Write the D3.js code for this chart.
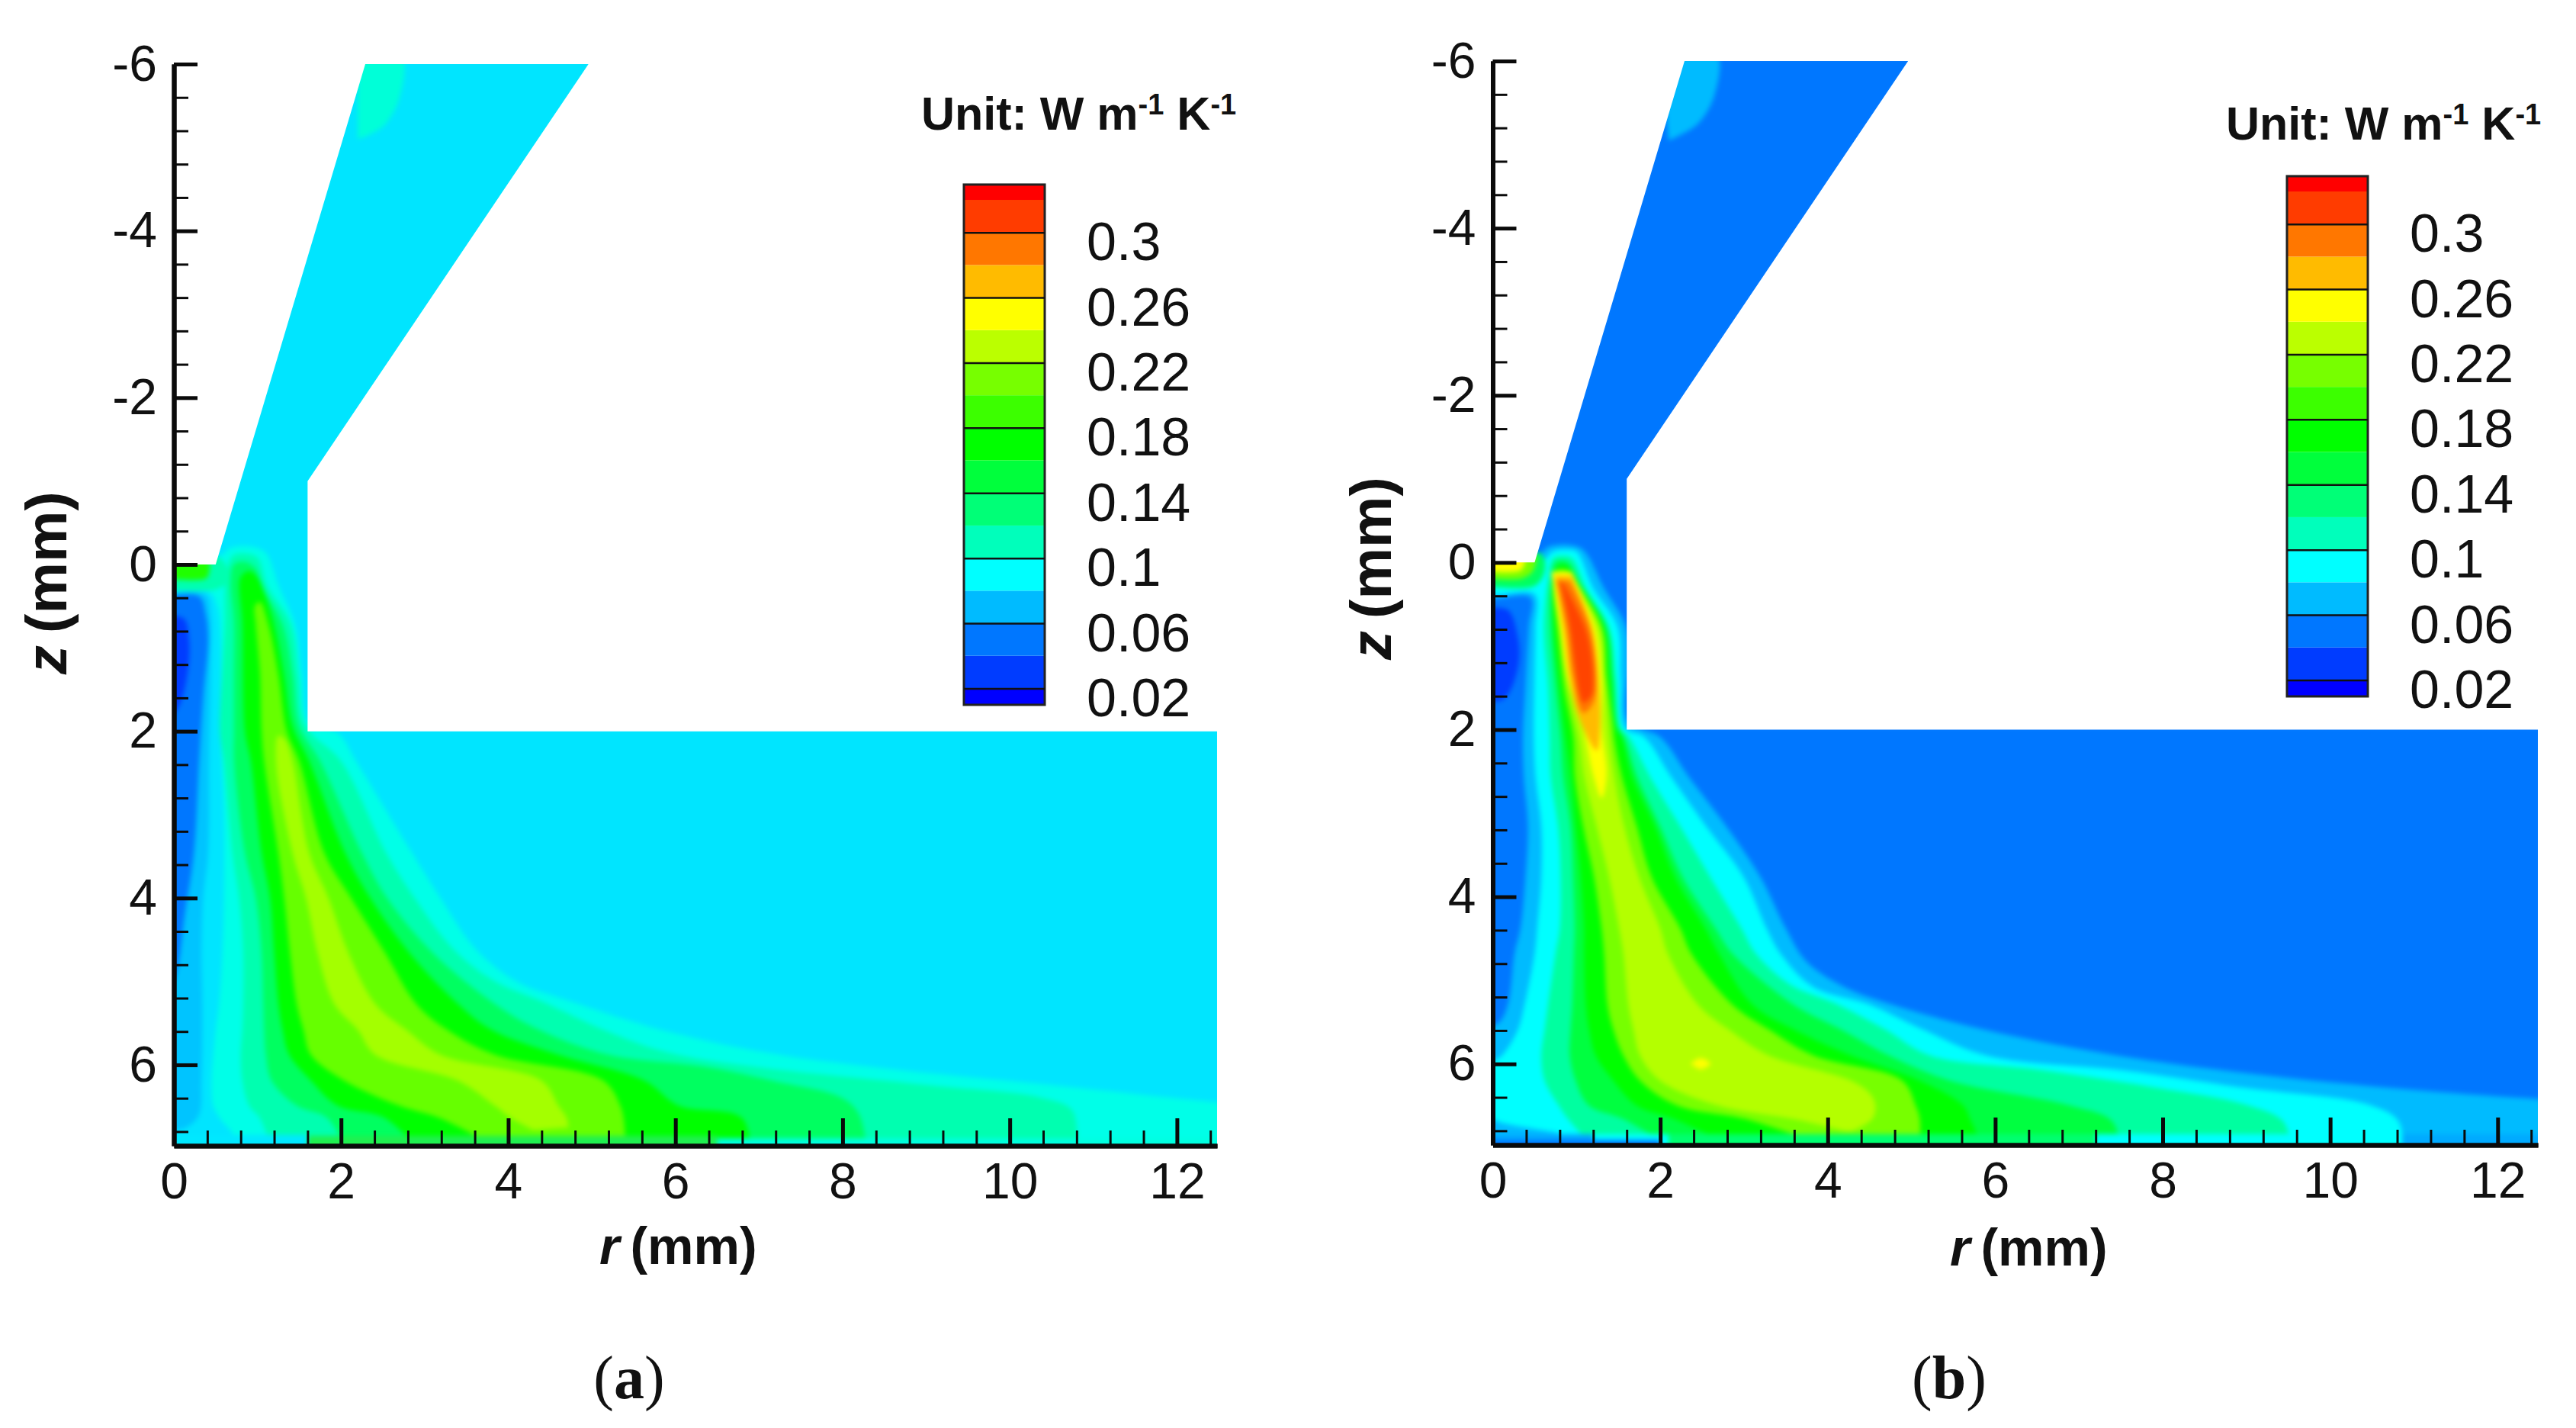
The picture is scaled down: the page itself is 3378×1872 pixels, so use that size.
<!DOCTYPE html>
<html lang="en">
<head>
<meta charset="utf-8">
<script src="https://d3js.org/d3.v7.min.js"></script>
<style>
    body { margin: 0; background: #fff; }
    text { font-family: "Liberation Sans", Arial, sans-serif; fill: #111; }
</style>
</head>
<body>
<script>
// legend
var legendLabels = [0.3, 0.26, 0.22, 0.18, 0.14, 0.1, 0.06, 0.02];
var legendEdges = [0.0099, 0.02, 0.04, 0.06, 0.08, 0.1, 0.12, 0.14, 0.16, 0.18, 0.2, 0.22, 0.24, 0.26, 0.28, 0.3, 0.32, 0.3294];
var legendColors = ["#0000ff", "#003cff", "#0077ff", "#00bbff", "#00ffff", "#00ffbb", "#00ff77", "#00ff3c", "#00ff00",
    "#3cff00", "#77ff00", "#bbff00", "#ffff00", "#ffbb00", "#ff7700", "#ff3c00", "#ff0000"];

// axis ticks (mm)
var rMajor = [0, 2, 4, 6, 8, 10, 12];
var rMinor = [0.4, 0.8, 1.2, 1.6, 2.4, 2.8, 3.2, 3.6, 4.4, 4.8, 5.2, 5.6, 6.4, 6.8, 7.2, 7.6, 8.4, 8.8, 9.2, 9.6, 10.4, 10.8, 11.2, 11.6, 12.4];
var zMajor = [-6, -4, -2, 0, 2, 4, 6];
var zMinor = [-5.6, -5.2, -4.8, -4.4, -3.6, -3.2, -2.8, -2.4, -1.6, -1.2, -0.8, -0.4, 0.4, 0.8, 1.2, 1.6, 2.4, 2.8, 3.2, 3.6, 4.4, 4.8, 5.2, 5.6, 6.4, 6.8];

// flow domain outline, [r, z] in mm
var domainOutline = [[0, 0], [0.5, 0], [2.29, -6], [4.96, -6], [1.6, -1], [1.6, 2], [12.48, 2], [12.48, 6.97], [0, 6.97]];

// panel a contour regions, [r, z] in mm
var aOuter = [[-0.1, -0.1], [0.55, -0.1], [0.68, -0.2], [0.9, -0.22], [1.1, -0.14], [1.25, 0.25], [1.45, 0.72], [1.53, 1.3], [1.62, 1.9], [1.97, 2.03], [2.18, 2.36], [2.85, 3.46], [3.19, 4], [3.6, 4.6], [4.1, 5], [4.75, 5.24], [5.83, 5.58], [7.07, 5.85], [8.4, 6.03], [10.48, 6.24], [12.5, 6.45], [13.5, 6.53], [13.5, 7.1], [-0.1, 7.1]];
var aLow1 = [[-0.1, 0.33], [0.42, 0.33], [0.52, 0.5], [0.56, 0.9], [0.56, 2], [0.6, 3], [0.6, 4], [0.58, 4.66], [0.54, 5.27], [0.5, 5.58], [0.47, 5.88], [0.45, 6.19], [0.47, 6.49], [0.55, 6.64], [0.7, 6.85], [-0.1, 6.9]];
var aLow2 = [[-0.1, 0.36], [0.38, 0.36], [0.44, 0.6], [0.44, 1.2], [0.42, 2.3], [0.41, 3.46], [0.35, 4], [0.33, 4.66], [0.34, 5.27], [0.33, 6.19], [0.3, 6.6], [0.15, 6.75], [-0.1, 6.8]];
var aLow3 = [[-0.1, 0.38], [0.3, 0.38], [0.38, 0.6], [0.41, 0.9], [0.35, 1.6], [0.3, 2.4], [0.24, 3.46], [0.13, 4.2], [0.03, 4.9], [-0.1, 5.2]];
var aLow4 = [[-0.1, 0.62], [0.12, 0.65], [0.18, 0.9], [0.17, 1.25], [0.06, 1.7], [-0.1, 1.9]];
var aBand2 = [[1.2, 7.1], [1.03, 6.64], [0.9, 6.49], [0.82, 6.19], [0.8, 5.88], [0.82, 5.58], [0.83, 5.27], [0.83, 4.66], [0.78, 4], [0.7, 3.46], [0.6, 2.36], [0.55, 2], [0.58, 1.3], [0.61, 0.72], [0.62, 0.2], [0.7, -0.1], [0.85, -0.13], [1, -0.08], [1.12, 0.26], [1.4, 0.72], [1.49, 1.33], [1.58, 1.94], [2, 2.36], [2.54, 3.46], [2.88, 4], [3.35, 4.62], [3.84, 5], [4.4, 5.24], [5.14, 5.58], [5.9, 5.85], [7, 6.03], [9, 6.24], [10.4, 6.4], [10.75, 6.55], [10.8, 7.1]];
var aBand3 = [[2.1, 7.1], [1.84, 6.64], [1.47, 6.49], [1.17, 6.19], [1.1, 5.88], [1.08, 5.58], [1.07, 5.27], [1.05, 4.66], [0.98, 4], [0.85, 3.46], [0.72, 2.36], [0.72, 2], [0.72, 1.3], [0.72, 0.7], [0.68, 0.2], [0.72, 0], [0.85, -0.03], [0.98, 0.05], [1.05, 0.26], [1.3, 0.72], [1.42, 1.33], [1.5, 1.94], [1.75, 2.36], [2.25, 3.46], [2.55, 4], [3.1, 4.66], [3.84, 5.27], [4.37, 5.58], [5.2, 5.88], [6.4, 6.03], [7.2, 6.2], [8, 6.4], [8.2, 6.6], [8.3, 7.1]];
var aBand4 = [[3, 7.1], [2.53, 6.64], [1.96, 6.49], [1.64, 6.19], [1.38, 5.88], [1.3, 5.58], [1.25, 5.27], [1.2, 4.66], [1.15, 4], [1.05, 3.46], [0.92, 2.36], [0.85, 2], [0.82, 0.72], [0.8, 0.15], [0.9, 0.08], [1, 0.15], [1.07, 0.3], [1.2, 0.72], [1.32, 1.33], [1.42, 1.94], [1.62, 2.36], [2.05, 3.46], [2.35, 4], [2.82, 4.66], [3.4, 5.27], [3.8, 5.58], [4.6, 5.88], [5.63, 6.19], [6.04, 6.49], [6.8, 6.64], [6.9, 7.1]];
var aBand5 = [[3.7, 6.9], [3.19, 6.64], [2.7, 6.49], [2.04, 6.19], [1.64, 5.88], [1.55, 5.58], [1.47, 5.27], [1.39, 4.66], [1.32, 4], [1.25, 3.46], [1.08, 2.36], [1.05, 2], [1.03, 1.3], [0.98, 0.72], [0.97, 0.5], [1.03, 0.45], [1.13, 0.72], [1.25, 1.33], [1.35, 2], [1.5, 2.36], [1.8, 3.46], [2.12, 4], [2.53, 4.66], [2.9, 5.27], [3.27, 5.58], [3.84, 5.88], [5.14, 6.19], [5.34, 6.49], [5.38, 6.64], [5.4, 6.87]];
var aBand6 = [[4.3, 6.78], [4.04, 6.64], [3.84, 6.49], [3.4, 6.19], [2.41, 5.88], [2.2, 5.58], [1.92, 5.27], [1.72, 4.66], [1.58, 4], [1.42, 3.46], [1.22, 2.36], [1.25, 2.05], [1.33, 2.1], [1.42, 2.36], [1.62, 3.46], [1.85, 4], [2.09, 4.66], [2.41, 5.27], [2.78, 5.58], [3.19, 5.88], [4.4, 6.19], [4.6, 6.49], [4.7, 6.64], [4.72, 6.75]];
var aInlet1 = [[-0.1, -0.1], [0.5, -0.1], [0.62, 0], [0.65, 0.2], [0.5, 0.3], [-0.1, 0.3]];
var aInlet2 = [[-0.1, -0.1], [0.4, -0.1], [0.42, 0.1], [0.38, 0.17], [-0.1, 0.17]];
var aCorner = [[2.2, -6.1], [2.72, -6.1], [2.7, -5.6], [2.5, -5.25], [2.2, -5.1]];
var aWallL = [[-0.1, 6.84], [1.6, 6.84], [1.6, 7.1], [-0.1, 7.1]];
var aWallM = [[1.6, 6.85], [6.5, 6.85], [6.5, 7.1], [1.6, 7.1]];
var aWallR = [[6.5, 6.88], [13, 6.88], [13, 7.1], [6.5, 7.1]];

// panel b contour regions
var bOuter = [[-0.1, 7.1], [-0.1, 5.6], [0.08, 5.5], [0.18, 5.29], [0.26, 4.68], [0.33, 4.38], [0.39, 3.77], [0.42, 3.16], [0.37, 2.55], [0.36, 2.09], [0.39, 1.5], [0.43, 0.77], [0.45, 0.42], [-0.1, 0.4], [-0.1, -0.1], [0.55, -0.1], [0.67, -0.19], [0.9, -0.21], [1.08, -0.15], [1.33, 0.31], [1.59, 0.77], [1.62, 1.2], [1.62, 1.9], [2, 2.09], [2.33, 2.55], [2.79, 3.16], [3.2, 3.77], [3.5, 4.38], [3.75, 4.78], [4.2, 5.08], [4.77, 5.29], [5.87, 5.59], [7.29, 5.87], [8.75, 6.08], [10.64, 6.28], [12.5, 6.42], [13.5, 6.48], [13.5, 7.1]];
var bBand2 = [[-0.1, 7.1], [-0.1, 6.05], [0.11, 5.9], [0.3, 5.59], [0.38, 5.29], [0.5, 4.68], [0.53, 4.38], [0.58, 3.77], [0.58, 3.16], [0.51, 2.55], [0.49, 2.09], [0.5, 1.3], [0.51, 0.77], [0.5, 0.38], [-0.1, 0.36], [-0.1, -0.1], [0.55, -0.1], [0.6, -0.02], [0.72, -0.13], [0.9, -0.15], [1, -0.13], [1.2, 0.31], [1.49, 0.77], [1.53, 1.38], [1.58, 1.98], [1.81, 2.09], [2.12, 2.55], [2.55, 3.16], [3, 3.77], [3.27, 4.38], [3.45, 4.7], [3.83, 5.08], [4.5, 5.29], [5.14, 5.59], [5.9, 5.9], [7.55, 6.08], [8.93, 6.28], [10.47, 6.49], [10.82, 6.69], [10.86, 7.1]];
var bBand3 = [[1.3, 7.1], [0.9, 6.66], [0.79, 6.5], [0.62, 6.2], [0.58, 5.9], [0.62, 5.59], [0.66, 5.29], [0.75, 4.68], [0.8, 4.38], [0.81, 3.77], [0.78, 3.16], [0.69, 2.55], [0.68, 2.09], [0.66, 1.5], [0.61, 0.77], [0.66, 0.2], [0.72, -0.05], [0.85, -0.08], [0.95, -0.05], [1.12, 0.31], [1.39, 0.77], [1.47, 1.38], [1.53, 1.98], [1.63, 2.09], [1.87, 2.55], [2.24, 3.16], [2.6, 3.77], [2.97, 4.38], [3.14, 4.68], [3.55, 5.05], [4.12, 5.29], [4.69, 5.59], [5.22, 5.9], [6.6, 6.08], [7.9, 6.28], [9, 6.49], [9.44, 6.69], [9.55, 7.1]];
var bBand4 = [[2.3, 7.1], [1.56, 6.66], [1.15, 6.5], [0.99, 6.2], [0.92, 5.9], [0.93, 5.59], [0.95, 5.29], [0.97, 4.68], [0.98, 4.38], [0.96, 3.77], [0.93, 3.16], [0.84, 2.55], [0.81, 2.09], [0.75, 1.5], [0.69, 0.77], [0.7, 0.2], [0.75, 0], [0.85, -0.02], [0.92, 0.02], [1.07, 0.31], [1.36, 0.77], [1.44, 1.38], [1.5, 1.98], [1.57, 2.09], [1.72, 2.55], [2, 3.16], [2.27, 3.77], [2.66, 4.38], [2.86, 4.68], [3.59, 5.29], [4.16, 5.59], [4.73, 5.9], [5.46, 6.2], [6.9, 6.5], [7.4, 6.69], [7.5, 7.1]];
var bBand5 = [[3.1, 7.1], [2.17, 6.66], [1.72, 6.5], [1.44, 6.2], [1.23, 5.9], [1.15, 5.59], [1.11, 5.29], [1.09, 4.68], [1.09, 4.38], [1.05, 3.77], [0.99, 3.16], [0.93, 2.55], [0.87, 2.09], [0.8, 1.5], [0.73, 0.77], [0.72, 0.2], [0.78, 0.05], [0.88, 0.04], [1, 0.2], [1.33, 0.77], [1.4, 1.38], [1.47, 1.98], [1.54, 2.09], [1.66, 2.55], [1.94, 3.16], [2.18, 3.77], [2.54, 4.38], [2.7, 4.68], [3.1, 5.29], [3.6, 5.59], [4.28, 5.9], [5.1, 6.2], [5.62, 6.5], [5.7, 6.66], [5.9, 7.1]];
var bBand6 = [[3.9, 6.95], [3.02, 6.66], [2.21, 6.5], [1.76, 6.2], [1.56, 5.9], [1.44, 5.59], [1.37, 5.29], [1.33, 4.68], [1.3, 4.38], [1.21, 3.77], [1.08, 3.16], [0.98, 2.55], [0.96, 2.09], [0.85, 1.5], [0.77, 0.77], [0.72, 0.25], [0.76, 0.1], [0.88, 0.09], [0.97, 0.2], [1.3, 0.77], [1.36, 1.38], [1.44, 1.98], [1.45, 2.09], [1.54, 2.55], [1.72, 3.16], [1.9, 3.77], [2.24, 4.38], [2.37, 4.68], [2.86, 5.29], [3.3, 5.59], [3.83, 5.9], [4.89, 6.2], [5.05, 6.5], [5.1, 6.66], [5.1, 6.95]];
var bBand7 = [[4.2, 6.8], [3.6, 6.66], [2.7, 6.5], [2, 6.2], [1.76, 5.9], [1.68, 5.59], [1.62, 5.29], [1.56, 4.68], [1.51, 4.38], [1.39, 3.77], [1.24, 3.16], [1.09, 2.55], [1.03, 2.09], [0.9, 1.5], [0.8, 0.77], [0.74, 0.3], [0.78, 0.13], [0.88, 0.12], [0.95, 0.25], [1.28, 0.77], [1.34, 1.38], [1.39, 2.09], [1.45, 2.55], [1.57, 3.16], [1.75, 3.77], [2, 4.38], [2.09, 4.68], [2.45, 5.29], [2.82, 5.59], [3.3, 5.9], [4.28, 6.2], [4.5, 6.35], [4.57, 6.5], [4.53, 6.66], [4.3, 6.8]];
var bBand8 = [[0.7, 0.11], [0.8, 0.77], [0.89, 1.38], [1.08, 1.98], [1.2, 2.55], [1.3, 2.82], [1.36, 2.55], [1.3, 1.98], [1.3, 1.38], [1.22, 0.77], [0.94, 0.11]];
var bBand9 = [[0.74, 0.16], [0.84, 0.77], [0.92, 1.38], [1.02, 1.83], [1.24, 2.25], [1.28, 1.98], [1.26, 1.38], [1.18, 0.77], [0.94, 0.16]];
var bBand10 = [[0.76, 0.22], [0.88, 0.77], [0.96, 1.38], [1.08, 1.8], [1.2, 1.68], [1.24, 1.38], [1.16, 0.77], [0.92, 0.22]];
var bBand11 = [[0.8, 0.19], [0.86, 0.46], [0.92, 0.77], [0.98, 1.22], [1.04, 1.59], [1.08, 1.68], [1.18, 1.59], [1.2, 1.38], [1.18, 1.13], [1.12, 0.83], [1, 0.55], [0.86, 0.28]];
var bSpot = [[2.36, 6], [2.48, 5.93], [2.6, 6], [2.48, 6.07]];
var bLow = [[-0.1, 0.55], [0.18, 0.57], [0.3, 0.9], [0.31, 1.2], [0.2, 1.55], [0.1, 1.65], [-0.1, 1.65]];
var bInlet1 = [[-0.1, -0.1], [0.58, -0.1], [0.62, 0.1], [0.5, 0.28], [-0.1, 0.28]];
var bInlet2 = [[-0.1, -0.1], [0.5, -0.1], [0.48, 0.1], [0.35, 0.19], [-0.1, 0.19]];
var bInlet3 = [[-0.1, -0.1], [0.38, -0.1], [0.35, 0.08], [0.28, 0.11], [-0.1, 0.11]];
var bCorner = [[2, -6.1], [2.67, -6.1], [2.65, -5.6], [2.45, -5.25], [2.1, -5.05]];
var bWallCold = [[-0.1, 6.62], [0.1, 6.7], [0.8, 6.84], [-0.1, 6.84]];
var bWallA = [[-0.1, 6.84], [1.2, 6.84], [1.2, 7.1], [-0.1, 7.1]];
var bWallB = [[1.2, 6.84], [2.1, 6.84], [2.1, 7.1], [1.2, 7.1]];
var bWallC = [[2.1, 6.84], [7.2, 6.84], [7.2, 7.1], [2.1, 7.1]];
var bWallD = [[7.2, 6.84], [10.86, 6.84], [10.86, 7.1], [7.2, 7.1]];
var bWallE = [[10.86, 6.84], [13, 6.84], [13, 7.1], [10.86, 7.1]];
var bWallBlue = [[-0.1, 6.91], [2, 6.91], [2, 7.1], [-0.1, 7.1]];

var svg = d3.select("body").append("svg")
    .attr("width", 3378)
    .attr("height", 1872);

var panels = [
    {
        id: "a", xRange: [228, 1596], zRange: [84, 1502], background: "#00e5ff",
        layers: [["#00ffe8", aOuter], ["#00e5ff", aLow1], ["#00c4ff", aLow2], ["#0077ff", aLow3], ["#003cff", aLow4],
            ["#00ffb0", aBand2], ["#00ff60", aBand3], ["#00ff00", aBand4], ["#66ff00", aBand5], ["#a4ff00", aBand6],
            ["#00ffb0", aInlet1], ["#20ff00", aInlet2], ["#00ffd8", aCorner],
            ["#00e8ff", aWallL, true], ["#20f050", aWallM, true], ["#00ffe0", aWallR, true]],
        legendDx: 0, legendDy: 0, unitX: 1208, unitY: 170,
        titleRx: 786, titleRy: 1657, titleZx: 87, titleZy: 764, captionX: 825
    },
    {
        id: "b", xRange: [1957.5, 3328], zRange: [80, 1501], background: "#0077ff",
        layers: [["#00bbff", bOuter], ["#00ffff", bBand2], ["#00ffa0", bBand3], ["#00ff40", bBand4], ["#00ff00", bBand5],
            ["#77ff00", bBand6], ["#b4ff00", bBand7], ["#ffff00", bBand8], ["#ffbb00", bBand9], ["#ff7700", bBand10], ["#ff4400", bBand11],
            ["#ffff00", bSpot], ["#003cff", bLow], ["#00ff60", bInlet1], ["#77ff00", bInlet2], ["#ffff00", bInlet3],
            ["#00bbff", bCorner], ["#00bbff", bWallCold], ["#00aaff", bWallA, true], ["#00ffff", bWallB, true],
            ["#00ff70", bWallC, true], ["#00ffff", bWallD, true], ["#00aaff", bWallE, true], ["#0077ff", bWallBlue, true]],
        legendDx: 1735, legendDy: -11, unitX: 2919, unitY: 183,
        titleRx: 2557, titleRy: 1659, titleZx: 1824, titleZy: 745, captionX: 2556
    }
];

panels.forEach(function(p) {
    var x = d3.scaleLinear().domain([0, 12.48]).range(p.xRange);
    var z = d3.scaleLinear().domain([-6, 6.97]).range(p.zRange);

    var smooth = d3.line()
        .x(function(d) { return x(d[0]) })
        .y(function(d) { return z(d[1]) })
        .curve(d3.curveCatmullRom.alpha(0.5));
    var straight = d3.line()
        .x(function(d) { return x(d[0]) })
        .y(function(d) { return z(d[1]) });

    svg.append("clipPath")
        .attr("id", "domain-" + p.id)
        .append("path")
        .attr("d", straight(domainOutline) + "Z");

    var field = svg.append("g")
        .attr("clip-path", "url(#domain-" + p.id + ")")
        .append("g")
        .style("filter", "blur(3px)");

    field.append("path")
        .attr("d", straight(domainOutline) + "Z")
        .attr("fill", p.background)
        .attr("stroke", p.background)
        .attr("stroke-width", 12);

    field.selectAll(".layer")
        .data(p.layers)
        .enter()
        .append("path")
        .attr("class", "layer")
        .attr("fill", function(d) { return d[0] })
        .attr("d", function(d) { return (d[2] ? straight(d[1]) : smooth(d[1])) + "Z" });

    // r axis, ticks point into the plot
    var bottom = p.zRange[1];
    var left = p.xRange[0];
    svg.append("g")
        .attr("transform", "translate(0," + bottom + ")")
        .call(d3.axisBottom(x).tickValues(rMinor).tickSizeInner(-20).tickSizeOuter(0).tickFormat(""))
        .call(styleAxis, 3);
    svg.append("g")
        .attr("transform", "translate(0," + bottom + ")")
        .call(d3.axisBottom(x).tickValues(rMajor).tickSizeInner(-36).tickSizeOuter(0).tickPadding(22))
        .call(styleAxis, 5);

    // z axis
    svg.append("g")
        .attr("transform", "translate(" + left + ",0)")
        .call(d3.axisLeft(z).tickValues(zMinor).tickSizeInner(-19).tickSizeOuter(0).tickFormat(""))
        .call(styleAxis, 3);
    svg.append("g")
        .attr("transform", "translate(" + left + ",0)")
        .call(d3.axisLeft(z).tickValues(zMajor).tickSizeInner(-31).tickSizeOuter(0).tickPadding(22).tickFormat(function(d) { return d }))
        .call(styleAxis, 5);

    // axis titles
    var rTitle = svg.append("text")
        .attr("x", p.titleRx)
        .attr("y", p.titleRy)
        .attr("font-size", 68)
        .attr("font-weight", "bold");
    rTitle.append("tspan").attr("font-style", "italic").text("r");
    rTitle.append("tspan").attr("dx", 14).text("(mm)");

    var zTitle = svg.append("text")
        .attr("transform", "translate(" + p.titleZx + "," + p.titleZy + ") rotate(-90)")
        .attr("text-anchor", "middle")
        .attr("font-size", 76)
        .attr("font-weight", "bold");
    zTitle.append("tspan").attr("font-style", "italic").text("z");
    zTitle.append("tspan").attr("dx", 16).text("(mm)");

    // unit
    var unit = svg.append("text")
        .attr("x", p.unitX)
        .attr("y", p.unitY)
        .attr("font-size", 61)
        .attr("font-weight", "bold");
    unit.append("tspan").text("Unit: W m");
    unit.append("tspan").attr("dy", -20).attr("font-size", 38).text("-1");
    unit.append("tspan").attr("dy", 20).text(" K");
    unit.append("tspan").attr("dy", -20).attr("font-size", 38).text("-1");

    // legend
    var legendY = d3.scaleLinear().domain([0.02, 0.3]).range([902.4 + p.legendDy, 304.7 + p.legendDy]);
    var barLeft = 1264 + p.legendDx;
    var barRight = 1370 + p.legendDx;
    svg.selectAll(".band-" + p.id)
        .data(legendColors)
        .enter()
        .append("rect")
        .attr("class", "band-" + p.id)
        .attr("x", barLeft)
        .attr("width", barRight - barLeft)
        .attr("y", function(d, i) { return legendY(legendEdges[i + 1]) })
        .attr("height", function(d, i) { return legendY(legendEdges[i]) - legendY(legendEdges[i + 1]) })
        .attr("fill", function(d) { return d });
    svg.append("rect")
        .attr("x", barLeft)
        .attr("y", legendY(0.3294))
        .attr("width", barRight - barLeft)
        .attr("height", legendY(0.0099) - legendY(0.3294))
        .attr("fill", "none")
        .attr("stroke", "#222")
        .attr("stroke-width", 3);
    var legendAxis = svg.append("g")
        .attr("transform", "translate(" + barRight + ",0)")
        .call(d3.axisRight(legendY).tickValues(legendLabels).tickSizeInner(-(barRight - barLeft)).tickSizeOuter(0).tickPadding(55)
            .tickFormat(function(d) { return d }));
    legendAxis.select(".domain").remove();
    legendAxis.selectAll("line").attr("stroke", "#111").attr("stroke-width", 2.5);
    legendAxis.selectAll("text")
        .attr("font-size", 70)
        .attr("font-family", "Liberation Sans")
        .attr("dy", 36);

    // caption
    var caption = svg.append("text")
        .attr("x", p.captionX)
        .attr("y", 1833)
        .attr("text-anchor", "middle")
        .attr("font-size", 80)
        .style("font-family", "'Liberation Serif'");
    caption.append("tspan").text("(");
    caption.append("tspan").attr("font-weight", "bold").text(p.id);
    caption.append("tspan").text(")");
});

function styleAxis(g, width) {
    g.selectAll(".domain").attr("stroke", "#0a0a0a").attr("stroke-width", 6);
    g.selectAll("line").attr("stroke", "#0a0a0a").attr("stroke-width", width);
    g.selectAll("text")
        .attr("font-size", 66)
        .attr("font-family", "Liberation Sans");
}
</script>
</body>
</html>
